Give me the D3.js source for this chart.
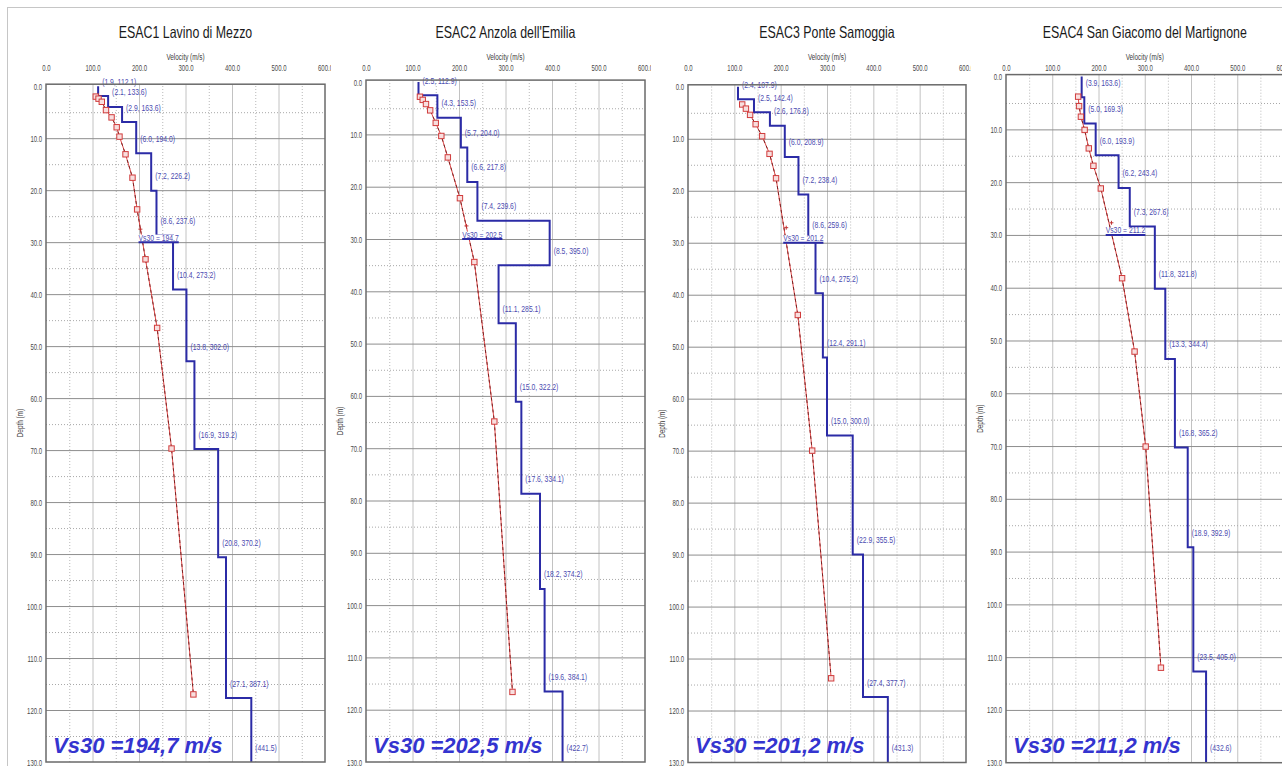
<!DOCTYPE html>
<html>
<head>
<meta charset="utf-8">
<script src="https://cdn.jsdelivr.net/npm/d3@7"></script>
<style>
  body { margin: 0; background: #fff; }
  svg { display: block; }
  text { font-family: "Liberation Sans", Arial, sans-serif; }
</style>
</head>
<body>
<div id="chart"></div>
<script>
const W = 1282, H = 766;

// site names and Vs30 (m/s)
const titles = ["ESAC1 Lavino di Mezzo", "ESAC2 Anzola dell'Emilia", "ESAC3 Ponte Samoggia", "ESAC4 San Giacomo del Martignone"];
const vs30 = [194.7, 202.5, 201.2, 211.2];

// layer thickness (m) and Vs (m/s); the last velocity is the half-space
const thick1 = [1.9, 2.1, 2.9, 6.0, 7.2, 8.6, 10.4, 13.8, 16.9, 20.8, 27.1];
const vel1   = [112.1, 133.6, 163.6, 194.0, 226.2, 237.6, 273.2, 302.0, 319.2, 370.2, 387.1, 441.5];
const thick2 = [2.5, 4.3, 5.7, 6.6, 7.4, 8.5, 11.1, 15.0, 17.6, 18.2, 19.6];
const vel2   = [112.9, 153.5, 204.0, 217.8, 239.6, 395.0, 285.1, 322.2, 334.1, 374.2, 384.1, 422.7];
const thick3 = [2.4, 2.5, 2.6, 6.0, 7.2, 8.6, 10.4, 12.4, 15.0, 22.9, 27.4];
const vel3   = [107.9, 142.4, 176.8, 208.9, 238.4, 259.6, 275.2, 291.1, 300.0, 355.5, 377.7, 431.3];
const thick4 = [3.9, 5.0, 6.0, 6.2, 7.3, 11.8, 13.3, 16.8, 18.9, 23.5];
const vel4   = [163.6, 169.3, 193.9, 243.4, 267.6, 321.8, 344.4, 365.2, 392.9, 405.0, 432.6];

// red curve points: velocity (m/s), depth (m)
const redV1 = [107, 113, 120, 129, 141, 152, 158, 171, 186, 196, 214, 239, 270, 317];
const redD1 = [2.0, 2.4, 3.0, 4.6, 6.0, 7.9, 9.7, 13.1, 17.6, 23.7, 33.3, 46.5, 69.7, 117.0];
const redV2 = [116, 122, 129, 138, 150, 162, 176, 202, 233, 276, 315];
const redD2 = [2.8, 3.4, 4.2, 5.4, 7.8, 10.3, 14.4, 22.2, 34.4, 64.9, 116.6];
const redV3 = [117, 125, 134, 146, 160, 176, 190, 237, 268, 309];
const redD3 = [3.4, 4.2, 5.4, 7.2, 9.5, 12.9, 17.6, 43.9, 70.0, 113.8];
const redV4 = [156, 158, 162, 170, 179, 189, 205, 251, 278, 302, 335];
const redD4 = [3.8, 5.6, 7.6, 10.1, 13.6, 16.9, 21.2, 38.2, 52.1, 70.1, 112.0];

// small cross marker on the red curve
const crossV = [203, 216, 212, 228];
const crossD = [27.5, 27.5, 27.1, 27.7];

const sites = [
  {thick: thick1, vel: vel1, redV: redV1, redD: redD1},
  {thick: thick2, vel: vel2, redV: redV2, redD: redD2},
  {thick: thick3, vel: vel3, redV: redV3, redD: redD3},
  {thick: thick4, vel: vel4, redV: redV4, redD: redD4}
];

// panel placement on the page
const layout = [
  {left: 46, right: 325, y0: 86.2, y130: 762, clip: [0, 331]},
  {left: 366, right: 645, y0: 82.1, y130: 762, clip: [331, 651]},
  {left: 688, right: 966, y0: 86.8, y130: 762.5, clip: [651, 971]},
  {left: 1006, right: 1283.5, y0: 76.6, y130: 762.7, clip: [971, 1282]}
];

const blue = "#2b2ba6", labelBlue = "#4b4bb0";

const svg = d3.select("#chart").append("svg")
    .attr("width", W)
    .attr("height", H);
const defs = svg.append("defs");

// outer border of the screenshot
svg.append("line").attr("x1", 7).attr("x2", W).attr("y1", 7.5).attr("y2", 7.5)
    .attr("stroke", "#c6c6c6");
svg.append("line").attr("x1", 7.5).attr("x2", 7.5).attr("y1", 7).attr("y2", H)
    .attr("stroke", "#c6c6c6");

function drawPanel(i) {
  const p = layout[i], s = sites[i];
  defs.append("clipPath").attr("id", "clip" + i)
    .append("rect").attr("x", p.clip[0]).attr("y", 0)
    .attr("width", p.clip[1] - p.clip[0]).attr("height", H);

  const x = d3.scaleLinear().domain([0, 600]).range([p.left, p.right]);
  const y = d3.scaleLinear().domain([0, 130]).range([p.y0, p.y130]);
  const top = y(0) - 2, bottom = y(130);
  const g = svg.append("g").attr("clip-path", `url(#clip${i})`);

  // vertical grid
  g.append("g")
      .attr("transform", `translate(0,${bottom})`)
      .call(d3.axisBottom(x).tickValues(d3.range(50, 600, 50)).tickSize(-(bottom - top)).tickFormat(""))
      .call(a => a.select(".domain").remove())
      .selectAll("line")
      .attr("stroke", d => d % 100 === 0 ? "#c2c2c2" : "#b8b8b8")
      .attr("stroke-dasharray", d => d % 100 === 0 ? null : "1,2");

  // horizontal grid
  g.append("g")
      .attr("transform", `translate(${p.left},0)`)
      .call(d3.axisLeft(y).tickValues(d3.range(5, 130, 5)).tickSize(-(p.right - p.left)).tickFormat(""))
      .call(a => a.select(".domain").remove())
      .selectAll("line")
      .attr("stroke", d => d % 10 === 0 ? "#8e8e8e" : "#a8a8a8")
      .attr("stroke-dasharray", d => d % 10 === 0 ? null : "1,2");

  // top axis labels
  const tk = 0.63;
  g.append("g")
      .attr("transform", "translate(0,74)")
      .call(d3.axisTop(x).tickValues(d3.range(0, 601, 100)).tickSize(0).tickPadding(3).tickFormat(d3.format(".1f")))
      .call(a => a.select(".domain").remove())
      .selectAll("text")
      .attr("font-size", 9.5)
      .attr("font-family", "Liberation Sans, Arial, sans-serif")
      .attr("fill", "#4a4a4a")
      .attr("transform", `scale(${tk},1)`);

  // left axis labels
  g.append("g")
      .attr("transform", `translate(${p.left},0)`)
      .call(d3.axisLeft(y).tickValues(d3.range(0, 131, 10)).tickSize(0).tickPadding(4).tickFormat(d3.format(".1f")))
      .call(a => a.select(".domain").remove())
      .selectAll("text")
      .attr("x", -4 / tk)
      .attr("font-size", 9.5)
      .attr("font-family", "Liberation Sans, Arial, sans-serif")
      .attr("fill", "#4a4a4a")
      .attr("transform", `scale(${tk},1)`);

  const cx = (p.left + p.right) / 2;

  // title and axis names
  g.append("text")
      .attr("transform", `translate(${cx},38) scale(0.75,1)`)
      .attr("text-anchor", "middle")
      .attr("font-size", 16.5)
      .attr("fill", "#1a1a1a")
      .text(titles[i]);

  g.append("text")
      .attr("transform", `translate(${cx},60) scale(0.75,1)`)
      .attr("text-anchor", "middle")
      .attr("font-size", 8.5)
      .attr("fill", "#3a3a3a")
      .text("Velocity (m/s)");

  g.append("text")
      .attr("transform", `translate(${p.left - 23},${(top + bottom) / 2}) rotate(-90) scale(0.75,1)`)
      .attr("text-anchor", "middle")
      .attr("font-size", 8.5)
      .attr("fill", "#3a3a3a")
      .text("Depth (m)");

  // blue layered profile
  const pts = [];
  let z = 0;
  s.thick.forEach((h, j) => {
    pts.push({v: s.vel[j], d: z}, {v: s.vel[j], d: z + h, h: h, lab: true});
    z += h;
  });
  const hs = s.vel[s.vel.length - 1];
  pts.push({v: hs, d: z}, {v: hs, d: 130, lab: true, half: true});

  const line = d3.line().x(d => x(d.v)).y(d => y(d.d));
  g.append("path")
      .datum(pts)
      .attr("d", line)
      .attr("fill", "none")
      .attr("stroke", blue)
      .attr("stroke-width", 2);

  // red curve
  const red = s.redV.map((v, j) => ({v: v, d: s.redD[j]}));
  g.append("path")
      .datum(red)
      .attr("d", line)
      .attr("fill", "none")
      .attr("stroke", "#e04848")
      .attr("stroke-width", 1);
  g.append("path")
      .datum(red)
      .attr("d", line)
      .attr("fill", "none")
      .attr("stroke", "#7a2222")
      .attr("stroke-width", 1)
      .attr("stroke-dasharray", "3,3");
  g.selectAll(".sq")
      .data(red)
      .join("rect")
      .attr("x", d => x(d.v) - 2.7)
      .attr("y", d => y(d.d) - 2.7)
      .attr("width", 5.4)
      .attr("height", 5.4)
      .attr("fill", "#f8dede")
      .attr("stroke", "#d03c3c")
      .attr("stroke-width", 1);
  const cxv = x(crossV[i]), cyd = y(crossD[i]);
  g.append("path")
      .attr("d", `M${cxv - 2},${cyd}H${cxv + 2}M${cxv},${cyd - 2}V${cyd + 2}`)
      .attr("stroke", "#c03030")
      .attr("stroke-width", 1);

  // layer labels
  const lk = 0.8;
  g.selectAll(".lab")
      .data(pts.filter(d => d.lab))
      .join("text")
      .attr("transform", d => `translate(${x(d.v) + 4},${y(d.d) - 11.5}) scale(${lk},1)`)
      .attr("font-size", 8.5)
      .attr("fill", labelBlue)
      .text(d => d.half ? `(${d.v.toFixed(1)})` : `(${d.h.toFixed(1)}, ${d.v.toFixed(1)})`);

  // Vs30 marker
  const vx = x(vs30[i]) + 2, vy = y(30);
  const bg = g.append("rect").attr("fill", "#fff");
  const vt = g.append("text")
      .attr("transform", `translate(${vx},${vy - 1.5}) scale(${lk},1)`)
      .attr("font-size", 8.5)
      .attr("fill", labelBlue)
      .text(`Vs30 = ${vs30[i].toFixed(1)}`);
  const w = vt.node().getBBox().width * lk;
  bg.attr("x", vx).attr("y", vy - 7.5).attr("width", w).attr("height", 7.5);
  g.append("line")
      .attr("x1", vx).attr("x2", vx + w)
      .attr("y1", vy).attr("y2", vy)
      .attr("stroke", blue)
      .attr("stroke-width", 2);

  // plot frame
  g.append("rect")
      .attr("x", p.left)
      .attr("y", top)
      .attr("width", p.right - p.left)
      .attr("height", bottom - top)
      .attr("fill", "none")
      .attr("stroke", "#6a6a6a")
      .attr("stroke-width", 1.5);

  // big Vs30 annotation
  g.append("text")
      .attr("x", p.left + 7)
      .attr("y", 753)
      .attr("font-size", 22)
      .attr("font-weight", "bold")
      .attr("font-style", "italic")
      .attr("fill", "#3434cf")
      .text(`Vs30 =${vs30[i].toFixed(1).replace(".", ",")} m/s`);
}

sites.forEach((s, i) => drawPanel(i));
</script>
</body>
</html>
